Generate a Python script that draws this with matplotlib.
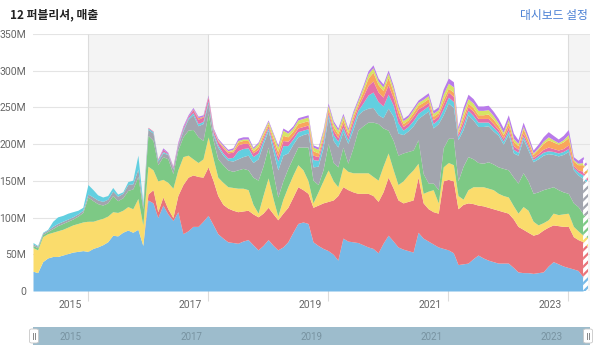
import numpy as np
import pandas as pd
import matplotlib
matplotlib.use("Agg")
import matplotlib.pyplot as plt
import matplotlib.transforms as mtrans
from matplotlib.patches import FancyBboxPatch
from matplotlib.lines import Line2D

# ---------------- data (monthly, 2014-02 .. 2023-05, values in millions) ----------------
start_month = "2014-02-01"
n_months = 112

blue = [27,25,40,45,47,47,49,51,53,54,55,54,58,60,63,67,76,75,80,83,80,84,62,
        124,120,100,117,105,96,108,78,82,88,88,95,
        103,90,78,72,67,66,65,68,70,63,
        56,62,70,62,56,60,67,80,92,94,
        92,67,62,58,55,50,42,72,68,67,
        66,63,60,58,52,65,76,68,60,57,
        55,53,80,72,68,64,60,58,56,52,
        36,37,38,44,49,45,42,40,38,38,
        38,32,26,25,25,24,25,26,34,40,
        37,34,32,30,28,19,20]
red = [0,0,0,0,0,0,0,0,0,0,0,0,0,0,0,0,0,0,0,0,0,0,0,
       8,18,8,11,7,4,22,67,73,70,68,60,
       66,60,52,46,46,44,43,41,40,42,
       45,44,44,43,41,46,47,48,50,44,
       41,47,55,62,67,74,88,70,70,68,
       67,70,73,72,70,70,79,72,64,63,
       67,71,75,48,44,44,46,92,96,98,
       76,81,82,75,68,71,72,72,72,70,
       68,66,62,59,55,52,53,57,53,50,
       52,54,56,44,42,48,40]
yellow = [32,31,34,33,33,35,35,36,37,38,39,41,37,37,36,35,32,32,30,32,32,42,28,
          38,27,42,24,36,40,35,38,30,22,19,25,
          41,30,25,30,29,31,32,31,28,13,
          5,24,40,20,5,19,28,30,30,27,
          17,6,18,30,43,26,12,27,25,26,
          28,28,28,26,29,35,33,25,21,30,
          36,41,19,13,24,30,14,19,23,22,
          18,7,18,23,25,26,26,26,23,22,
          22,18,18,31,30,19,12,10,10,16,
          15,17,18,14,12,9,12]
green = [3,3,3,3,5,7,8,8,8,10,13,33,28,22,18,18,22,16,17,22,27,30,22,
         42,40,22,31,32,20,27,27,34,40,35,25,
         32,25,25,24,23,22,25,27,27,37,
         45,40,42,35,26,25,25,24,24,31,
         46,31,10,15,36,25,27,27,11,34,
         58,64,69,74,77,52,31,40,40,38,
         32,27,32,27,11,9,18,26,33,36,
         20,45,45,38,33,32,36,35,36,37,
         37,39,41,46,40,38,45,45,43,36,
         34,30,27,32,33,29,26]
gray = [2,2,2,2,3,3,3,3,3,3,3,4,5,5,5,5,6,6,6,8,7,10,5,
        8,10,5,5,6,6,6,8,15,20,15,23,
        14,7,16,13,13,14,15,16,20,20,
        29,30,23,30,37,35,21,18,14,17,
        19,18,25,30,36,30,27,21,27,25,
        21,21,19,20,12,14,30,33,30,25,
        28,33,29,80,98,75,90,45,48,42,
        56,50,57,53,49,50,49,45,43,33,
        49,33,38,46,42,43,45,47,47,44,
        46,51,57,45,43,48,47]
cyan = [2,1,1,1,7,9,8,8,7,5,4,13,10,7,6,5,5,3,2,4,5,19,3,
        2,2,2,2,1,1,1,2,2,3,3,3,
        3,3,3,3,3,5,11,11,10,8,
        8,5,3,8,12,13,10,7,7,6,
        6,10,8,7,4,8,8,6,5,7,
        6,10,18,21,18,16,19,15,14,6,
        6,7,7,7,7,6,6,8,8,8,
        4,6,6,6,6,6,5,5,4,4,
        5,5,4,4,4,3,4,4,4,4,
        4,4,4,3,4,5,4]
pink = [0,0,0,0,0,0,0,0,0,0,0,0,0,0,0,0,0,0,0,0,0,0,0,
        1,1,1,3,1,2,2,3,2,4,6,6,
        5,4,5,7,7,7,8,7,6,5,
        5,4,3,5,6,7,6,5,5,5,
        5,6,5,5,4,6,5,6,5,6,
        5,9,13,15,13,12,13,10,10,5,
        5,6,6,5,5,5,5,7,7,7,
        4,6,5,6,5,5,5,5,4,4,
        5,5,4,4,4,3,3,4,5,4,
        4,4,5,3,3,5,4]
orange = [0,0,0,0,0,0,0,0,0,0,0,0,0,0,0,0,0,0,0,0,0,0,0,
          0,0,0,0,0,0,0,0,0,1,2,1,
          1,1,1,2,2,2,4,4,4,3,
          4,4,3,5,7,7,6,6,6,6,
          6,6,5,5,4,5,5,5,4,5,
          4,7,10,12,10,9,10,8,8,4,
          4,5,5,5,5,5,4,6,5,6,
          3,6,5,5,5,5,6,6,5,5,
          6,6,5,6,5,4,6,8,10,9,
          8,9,10,6,7,9,8]
lime = [0,0,0,0,0,0,0,0,0,0,0,0,0,0,0,0,0,0,0,0,0,0,0,
        0,0,0,0,0,0,0,0,0,0,0,0,
        0,0,1,1,1,2,2,2,2,3,
        4,3,3,5,6,7,5,4,5,5,
        5,5,5,5,4,5,5,5,4,4,
        4,5,6,6,5,5,6,5,4,4,
        4,4,4,4,4,4,4,7,7,7,
        3,6,6,6,6,6,6,5,4,3,
        4,4,3,3,2,2,2,3,4,3,
        2,3,4,2,2,3,3]
purple = [0,0,0,0,0,0,0,0,0,0,0,0,0,0,0,0,0,0,0,0,0,0,0,
          0,0,0,2,1,1,2,2,2,2,2,2,
          2,2,2,2,2,2,3,3,3,2,
          2,2,2,2,3,3,3,3,3,3,
          3,3,3,3,3,3,3,3,3,3,
          3,3,4,4,4,4,4,4,4,3,
          3,3,3,4,4,4,4,7,7,7,
          4,6,6,6,6,6,6,6,6,6,
          6,7,5,6,5,4,5,6,7,6,
          5,6,7,4,4,8,6]

series = [blue, red, yellow, green, gray, cyan, pink, orange, lime, purple]
colors = ["#76B9E7", "#E9737A", "#FADC6C", "#7DC985", "#A2A5AE",
          "#62CFE0", "#E56FA8", "#F9A65C", "#D6E563", "#B97BEA"]

y_ticks = [0, 50, 100, 150, 200, 250, 300, 350]
y_labels = ["0", "50M", "100M", "150M", "200M", "250M", "300M", "350M"]
year_labels = ["2015", "2017", "2019", "2021", "2023"]

# ---------------- figure ----------------
plt.rcParams["font.family"] = ["Roboto", "DejaVu Sans"]
plt.rcParams["hatch.linewidth"] = 1.6

dates = pd.date_range(start_month, periods=n_months, freq="MS")
years = pd.to_datetime([f"{y}-01-01" for y in year_labels])

fig = plt.figure(figsize=(6, 3.54), dpi=100)
W, H = 600, 354
ax = fig.add_axes([33 / W, 63 / H, 557 / W, 257 / H])
xmax = dates[-1] + pd.Timedelta(days=12)
ax.set_xlim(dates[0], xmax)
ax.set_ylim(0, 350)

# alternating background bands
band_edges = list(years) + [xmax]
for k in range(0, len(band_edges) - 1, 2):
    ax.axvspan(band_edges[k], band_edges[k + 1], color="#f4f4f4", lw=0, zorder=0)

for v in y_ticks:
    ax.axhline(v, color="#e4e4e4", lw=0.8, zorder=1)
ax.vlines(years, -13, 350, color="#dcdcdc", lw=0.8, clip_on=False, zorder=1)

vals = np.array(series, dtype=float)
cum = np.cumsum(vals, axis=0)
for k, c in enumerate(colors):
    lower = cum[k - 1] if k > 0 else np.zeros(n_months)
    upper = cum[k]
    ax.fill_between(dates[:-1], lower[:-1], upper[:-1], color=c, lw=0, zorder=2)
    ax.fill_between(dates[-2:], lower[-2:], upper[-2:], facecolor="white",
                    edgecolor=c, hatch="////", lw=0, zorder=2)

ax.set_yticks(y_ticks)
ax.set_yticklabels(y_labels)
ax.tick_params(axis="y", length=0, pad=5, labelcolor="#666666", labelsize=7.5)
ax.set_xticks([])
for s in ax.spines.values():
    s.set_visible(False)

lbl_tr = mtrans.offset_copy(ax.get_xaxis_transform(), fig=fig, x=-6, y=0, units="dots")
for d, t in zip(years, year_labels):
    ax.text(d, -0.055, t, transform=lbl_tr, ha="right", va="center",
            fontsize=7.5, color="#666666")

# titles
fig.text(10 / W, 1 - 15 / H, "12 퍼블리셔, 매출", fontsize=8.5, weight="bold",
         family=["Noto Sans CJK KR", "DejaVu Sans"], color="#222222", va="center")
fig.text(588 / W, 1 - 15 / H, "대시보드 설정", fontsize=8.5, ha="right",
         family=["Noto Sans CJK KR", "DejaVu Sans"], color="#4a80d4", va="center")

# range scrollbar
sax = fig.add_axes([33 / W, 9 / H, 557 / W, 18 / H])
sax.set_facecolor("#9dbccc")
sax.set_xlim(dates[0], xmax)
sax.set_ylim(0, 1)
sax.set_xticks([])
sax.set_yticks([])
for s in sax.spines.values():
    s.set_visible(False)
s_tr = mtrans.offset_copy(sax.get_xaxis_transform(), fig=fig, x=-6, y=0, units="dots")
for d, t in zip(years, year_labels):
    sax.text(d, 0.45, t, transform=s_tr, ha="right", va="center",
             fontsize=7, color="#7893a1")

for cx in (34, 588):
    fig.add_artist(FancyBboxPatch(((cx - 4.5) / W, 11 / H), 9 / W, 14 / H,
                                  boxstyle="round,pad=0,rounding_size=0.004",
                                  transform=fig.transFigure, facecolor="white",
                                  edgecolor="#c8c8c8", lw=0.6, zorder=5))
    for dx in (-1.2, 1.2):
        fig.add_artist(Line2D([(cx + dx) / W] * 2, [15 / H, 21 / H],
                              transform=fig.transFigure, color="#888888",
                              lw=0.7, zorder=6))

fig.savefig("out.png", dpi=100)
